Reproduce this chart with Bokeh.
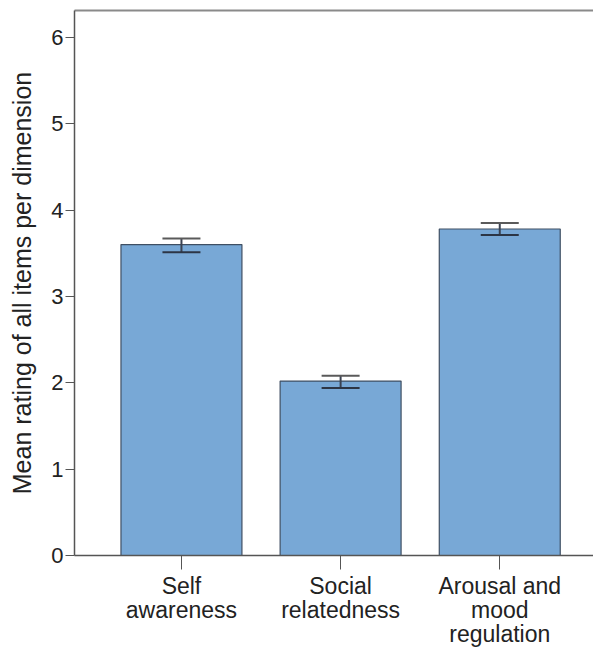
from bokeh.plotting import figure
from bokeh.models import Range1d, FixedTicker, LinearAxis, Whisker, ColumnDataSource, TeeHead
from bokeh.embed import file_html
from bokeh.resources import INLINE

categories = ["Self\nawareness", "Social\nrelatedness", "Arousal and\nmood\nregulation"]
means = [3.60, 2.02, 3.78]
err_low = [3.51, 1.94, 3.71]
err_high = [3.67, 2.08, 3.85]
y_ticks = [0, 1, 2, 3, 4, 5, 6]

xs = list(range(1, len(categories) + 1))
src = ColumnDataSource(dict(x=xs, top=means, lower=err_low, upper=err_high))

FONT = "Liberation Sans"
AX = "#555555"

p = figure(output_backend="svg", toolbar_location=None,
           frame_width=519, frame_height=545,
           min_border_left=74, min_border_right=0, min_border_top=10, min_border_bottom=80,
           x_range=Range1d(0.328, 3.589), y_range=Range1d(0, 6.31),
           background_fill_color="white", border_fill_color="white")
p.outline_line_color = None
p.xgrid.visible = False
p.ygrid.visible = False

p.vbar(x="x", top="top", bottom=0, width=0.76, source=src,
       fill_color="#78a8d6", line_color="#3f4f63", line_width=1.2)

w = Whisker(base="x", upper="upper", lower="lower", source=src, level="overlay",
            line_color="#3a4252", line_width=2,
            upper_head=TeeHead(size=38, line_color="#5a5a5a", line_width=2),
            lower_head=TeeHead(size=38, line_color="#2c3545", line_width=2))
p.add_layout(w)

# y axis
p.yaxis.ticker = FixedTicker(ticks=y_ticks)
p.yaxis.axis_label = "Mean rating of all items per dimension"
p.yaxis.axis_label_text_font = FONT
p.yaxis.axis_label_text_font_style = "normal"
p.yaxis.axis_label_text_font_size = "25px"
p.yaxis.axis_label_text_color = "#222222"
p.yaxis.axis_label_standoff = 12
p.yaxis.major_label_text_font = FONT
p.yaxis.major_label_text_font_size = "22px"
p.yaxis.major_label_text_color = "#222222"
p.yaxis.major_label_standoff = 2
p.yaxis.major_tick_out = 9
p.yaxis.major_tick_in = 0
p.yaxis.minor_tick_line_color = None
p.yaxis.axis_line_color = AX
p.yaxis.major_tick_line_color = AX
p.yaxis.axis_line_width = 1.5

# x axis
p.xaxis.ticker = FixedTicker(ticks=xs)
p.xaxis.major_label_overrides = {x: c for x, c in zip(xs, categories)}
p.xaxis.major_label_text_font = FONT
p.xaxis.major_label_text_font_size = "23px"
p.xaxis.major_label_text_color = "#222222"
p.xaxis.major_label_text_line_height = 0.93
p.xaxis.major_label_standoff = 3
p.xaxis.major_tick_out = 14
p.xaxis.major_tick_in = 0
p.xaxis.minor_tick_line_color = None
p.xaxis.axis_line_color = AX
p.xaxis.major_tick_line_color = AX
p.xaxis.axis_line_width = 1.5

# top border
top = LinearAxis(ticker=FixedTicker(ticks=[]), major_label_text_font_size="0px",
                 major_tick_out=0, major_tick_in=0, major_label_standoff=0,
                 minor_tick_line_color=None, axis_line_color="#8a8a8a", axis_line_width=2)
p.add_layout(top, "above")

open("out.html", "w").write(file_html(p, INLINE))
